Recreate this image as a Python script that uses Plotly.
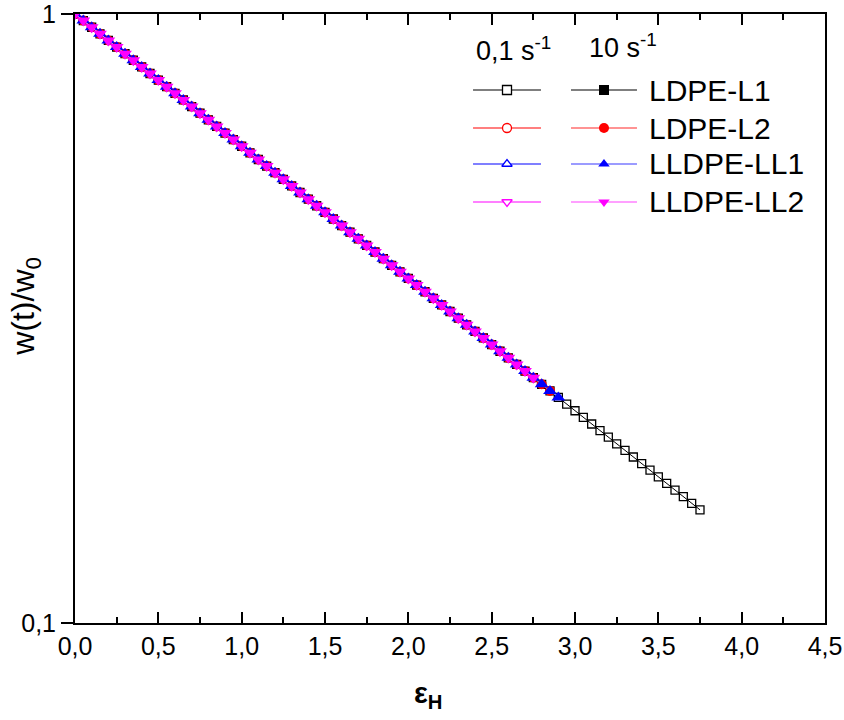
import plotly.graph_objects as go

# Hencky strain values (x)
eps = [0.00, 0.05, 0.10, 0.15, 0.20, 0.25, 0.30, 0.35, 0.40, 0.45,
       0.50, 0.55, 0.60, 0.65, 0.70, 0.75, 0.80, 0.85, 0.90, 0.95,
       1.00, 1.05, 1.10, 1.15, 1.20, 1.25, 1.30, 1.35, 1.40, 1.45,
       1.50, 1.55, 1.60, 1.65, 1.70, 1.75, 1.80, 1.85, 1.90, 1.95,
       2.00, 2.05, 2.10, 2.15, 2.20, 2.25, 2.30, 2.35, 2.40, 2.45,
       2.50, 2.55, 2.60, 2.65, 2.70, 2.75, 2.80, 2.85, 2.90, 2.95,
       3.00, 3.05, 3.10, 3.15, 3.20, 3.25, 3.30, 3.35, 3.40, 3.45,
       3.50, 3.55, 3.60, 3.65, 3.70, 3.75]

# w(t)/w0 values
ratio = [1.000, 0.9753, 0.9512, 0.9277, 0.9048, 0.8825, 0.8607, 0.8395, 0.8187, 0.7985,
         0.7788, 0.7596, 0.7408, 0.7225, 0.7047, 0.6873, 0.6703, 0.6538, 0.6376, 0.6219,
         0.6065, 0.5916, 0.5769, 0.5627, 0.5488, 0.5353, 0.5220, 0.5092, 0.4966, 0.4843,
         0.4724, 0.4607, 0.4493, 0.4382, 0.4274, 0.4169, 0.4066, 0.3965, 0.3867, 0.3772,
         0.3679, 0.3588, 0.3499, 0.3413, 0.3329, 0.3247, 0.3166, 0.3088, 0.3012, 0.2938,
         0.2865, 0.2794, 0.2725, 0.2658, 0.2592, 0.2528, 0.2466, 0.2405, 0.2346, 0.2288,
         0.2231, 0.2176, 0.2122, 0.2070, 0.2019, 0.1969, 0.1920, 0.1873, 0.1827, 0.1782,
         0.1738, 0.1695, 0.1653, 0.1612, 0.1572, 0.1534]

# Series: name, number of points recorded (reading where each ends)
materials = ["LDPE-L1", "LDPE-L2", "LLDPE-LL1", "LLDPE-LL2"]
n_slow = [76, 57, 57, 55]      # 0,1 s^-1 (open symbols)
n_fast = [57, 58, 59, 56]      # 10 s^-1 (filled symbols)

x_ticks = [0.0, 0.5, 1.0, 1.5, 2.0, 2.5, 3.0, 3.5, 4.0, 4.5]
x_tick_text = ["0,0", "0,5", "1,0", "1,5", "2,0", "2,5", "3,0", "3,5", "4,0", "4,5"]
y_ticks = [0.1, 1]
y_tick_text = ["0,1", "1"]

open_symbols = ["square-open", "circle-open", "triangle-up-open", "triangle-down-open"]
legend_open_symbols = ["square", "circle", "triangle-up", "triangle-down"]
filled_symbols = ["square", "circle", "triangle-up", "triangle-down"]
filled_sizes = [8, 10, 12, 12]
marker_colors = ["#000000", "#ff0000", "#0000ff", "#ff00ff"]
open_line_colors = ["#000000", "#ff0000", "#0000ff", "#ff00ff"]
filled_line_colors = ["#555555", "#ff6f6f", "#7a7aff", "#ff80ff"]

FONT = "Liberation Sans, Arial, sans-serif"

fig = go.Figure()

for i, name in enumerate(materials):
    n = n_slow[i]
    fig.add_trace(go.Scatter(
        x=eps[:n], y=ratio[:n], mode="lines+markers", name=name + " 0,1",
        line=dict(color=open_line_colors[i], width=1),
        marker=dict(symbol=open_symbols[i], size=8, color=marker_colors[i],
                    line=dict(width=1.3, color=marker_colors[i])),
        showlegend=False))
for i, name in enumerate(materials):
    n = n_fast[i]
    fig.add_trace(go.Scatter(
        x=eps[:n], y=ratio[:n], mode="lines+markers", name=name + " 10",
        line=dict(color=filled_line_colors[i], width=1),
        marker=dict(symbol=filled_symbols[i], size=filled_sizes[i],
                    color=marker_colors[i], line=dict(width=0)),
        showlegend=False))

# Manual two-column legend drawn on an overlay axis (0..1 over the plot area)
row_y = [0.8752, 0.8128, 0.7537, 0.6913]
open_x = [0.5307, 0.576, 0.6213]
fill_x = [0.6613, 0.7053, 0.7493]
for i, name in enumerate(materials):
    fig.add_trace(go.Scatter(
        x=[open_x[0], open_x[2]], y=[row_y[i], row_y[i]], mode="lines",
        line=dict(color=open_line_colors[i], width=1.2),
        xaxis="x2", yaxis="y2", showlegend=False, hoverinfo="skip"))
    fig.add_trace(go.Scatter(
        x=[open_x[1]], y=[row_y[i]], mode="markers",
        marker=dict(symbol=legend_open_symbols[i], size=9, color="white",
                    line=dict(width=1.3, color=marker_colors[i])),
        xaxis="x2", yaxis="y2", showlegend=False, hoverinfo="skip"))
    fig.add_trace(go.Scatter(
        x=[fill_x[0], fill_x[2]], y=[row_y[i], row_y[i]], mode="lines",
        line=dict(color=filled_line_colors[i], width=1.5),
        xaxis="x2", yaxis="y2", showlegend=False, hoverinfo="skip"))
    fig.add_trace(go.Scatter(
        x=[fill_x[1]], y=[row_y[i]], mode="markers",
        marker=dict(symbol=filled_symbols[i], size=10, color=marker_colors[i]),
        xaxis="x2", yaxis="y2", showlegend=False, hoverinfo="skip"))
    fig.add_annotation(x=0.7627, y=row_y[i], xref="paper", yref="paper",
                       text=name, showarrow=False, xanchor="left", yanchor="middle",
                       font=dict(family=FONT, size=30, color="black"))

fig.add_annotation(x=0.584, y=0.9427, xref="paper", yref="paper",
                   text="0,1 s<sup>-1</sup>", showarrow=False,
                   xanchor="center", yanchor="middle",
                   font=dict(family=FONT, size=27, color="black"))
fig.add_annotation(x=0.7307, y=0.9476, xref="paper", yref="paper",
                   text="10 s<sup>-1</sup>", showarrow=False,
                   xanchor="center", yanchor="middle",
                   font=dict(family=FONT, size=27, color="black"))

# Axis titles
fig.add_annotation(x=-0.066, y=0.52, xref="paper", yref="paper",
                   text="w(t)/w<sub>0</sub>", showarrow=False, textangle=-90,
                   xanchor="center", yanchor="middle",
                   font=dict(family=FONT, size=32, color="black"))
fig.add_annotation(x=0.4707, y=-0.118, xref="paper", yref="paper",
                   text="<b>ε<sub>H</sub></b>", showarrow=False,
                   xanchor="center", yanchor="middle",
                   font=dict(family=FONT, size=29, color="black"))

fig.update_layout(
    width=844, height=720,
    margin=dict(l=75, r=19, t=14, b=97, pad=0),
    paper_bgcolor="white", plot_bgcolor="white",
    font=dict(family=FONT, color="black"),
    xaxis=dict(range=[0, 4.5], tickvals=x_ticks, ticktext=x_tick_text,
               ticks="inside", ticklen=11, tickwidth=2, tickcolor="black",
               minor=dict(dtick=0.25, tick0=0, ticks="inside", ticklen=6,
                          tickwidth=2, tickcolor="black"),
               showline=True, linecolor="black", linewidth=2, mirror="ticks",
               showgrid=False, zeroline=False, automargin=False,
               ticklabeloverflow="allow",
               tickfont=dict(family=FONT, size=25, color="black")),
    yaxis=dict(type="log", range=[-1, 0], tickvals=y_ticks, ticktext=y_tick_text,
               ticks="outside", ticklen=12, tickwidth=2, tickcolor="black",
               showline=True, linecolor="black", linewidth=2, mirror=True,
               showgrid=False, zeroline=False, automargin=False,
               ticklabeloverflow="allow",
               tickfont=dict(family=FONT, size=25, color="black")),
    xaxis2=dict(range=[0, 1], overlaying="x", visible=False, domain=[0, 1],
                automargin=False),
    yaxis2=dict(range=[0, 1], overlaying="y", visible=False, domain=[0, 1],
                automargin=False),
)

# remove the browser's default 8px body margin so the figure sits at the window origin
fig.write_html("out.html", config={"displayModeBar": False},
               post_script="document.body.style.margin='0';")
